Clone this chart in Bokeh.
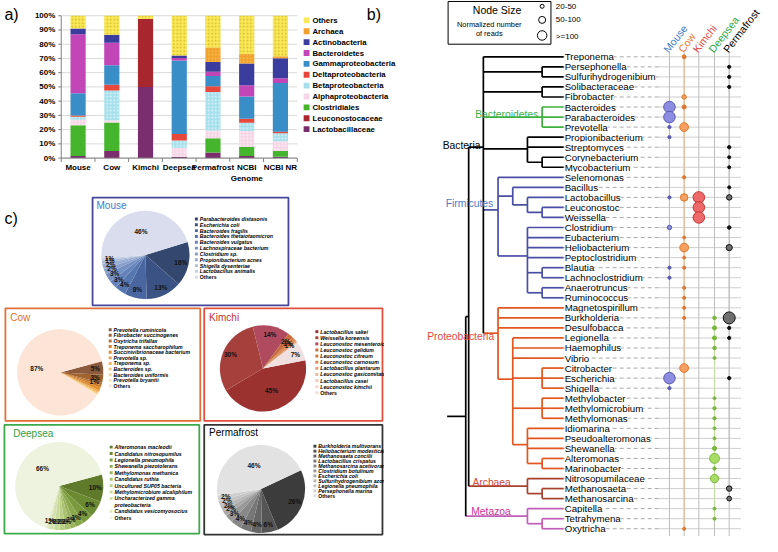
import math
from bokeh.plotting import figure
from bokeh.models import Range1d
from bokeh.embed import file_html
from bokeh.resources import INLINE
from bokeh.core.properties import value

FONT = "Liberation Sans"
F = value(FONT)

# ---------------- panel a data (percent of reads) ----------------
samples = ["Mouse", "Cow", "Kimchi", "Deepsea", "Permafrost", "NCBI\nGenome", "NCBI NR"]
groups = ["Lactobacillaceae", "Leuconostocaceae", "Clostridiales", "Alphaproteobacteria",
          "Betaproteobacteria", "Deltaproteobacteria", "Gammaproteobacteria", "Bacteroidetes",
          "Actinobacteria", "Archaea", "Others"]
lactobacillaceae = [1.5, 5.0, 50.0, 1.0, 4.0, 1.5, 1.0]
leuconostocaceae = [0, 0, 47.7, 0, 0, 0, 0]
clostridiales = [21.5, 20.0, 0, 0, 10.0, 6.5, 4.0]
alphaproteobacteria = [4.0, 1.5, 0, 6.3, 5.3, 11.0, 6.8]
betaproteobacteria = [2.0, 21.0, 0, 5.0, 27.1, 5.8, 5.7]
deltaproteobacteria = [1.0, 4.1, 0, 4.7, 4.1, 2.9, 1.0]
gammaproteobacteria = [15.5, 13.6, 0, 51.6, 7.2, 15.5, 34.2]
bacteroidetes = [41.5, 15.9, 0, 1.8, 3.0, 7.9, 3.4]
actinobacteria = [4.0, 5.5, 0, 1.6, 6.8, 15.3, 14.1]
archaea = [0, 0, 0, 0, 10.2, 6.8, 1.3]
others = [9.0, 13.4, 2.3, 28.0, 22.3, 26.8, 28.5]
series = [lactobacillaceae, leuconostocaceae, clostridiales, alphaproteobacteria,
          betaproteobacteria, deltaproteobacteria, gammaproteobacteria, bacteroidetes,
          actinobacteria, archaea, others]
pct_ticks = [0, 10, 20, 30, 40, 50, 60, 70, 80, 90, 100]
bar_colors = ["#7A2E6E", "#A8262E", "#46B52E", "#F6D6E6", "#A6E0EC", "#E8473B",
              "#3A8EC8", "#C246B8", "#3A3C9E", "#F2A02E", "#F8E85A"]
bar_hatch = [" ", " ", " ", "dot", "dot", " ", " ", " ", " ", "dot", "dot"]
bar_hatch_color = ["white", "white", "white", "#FFFFFF", "#FFFFFF", "white", "white",
                   "white", "white", "#F8D860", "#C8A400"]

# ---------------- panel b data ----------------
genera = ["Treponema", "Persephonella", "Sulfurihydrogenibium", "Solibacteraceae", "Fibrobacter",
          "Bacteroides", "Parabacteroides", "Prevotella", "Propionibacterium", "Streptomyces",
          "Corynebacterium", "Mycobacterium", "Selenomonas", "Bacillus", "Lactobacillus",
          "Leuconostoc", "Weissella", "Clostridium", "Eubacterium", "Heliobacterium",
          "Peptoclostridium", "Blautia", "Lachnoclostridium", "Anaerotruncus", "Ruminococcus",
          "Magnetospirillum", "Burkholderia", "Desulfobacca", "Legionella", "Haemophilus",
          "Vibrio", "Citrobacter", "Escherichia", "Shigella", "Methylobacter",
          "Methylomicrobium", "Methylomonas", "Idiomarina", "Pseudoalteromonas", "Shewanella",
          "Alteromonas", "Marinobacter", "Nitrosopumilaceae", "Methanosaeta", "Methanosarcina",
          "Capitella", "Tetrahymena", "Oxytricha"]
environments = ["Mouse", "Cow", "Kimchi", "Deepsea", "Permafrost"]
# normalized number of reads per genus (estimated from node sizes)
mouse_reads = [0, 0, 0, 0, 0, 300, 300, 5, 5, 0, 0, 0, 0, 0, 5, 0, 0, 20, 0, 0,
               0, 5, 5, 0, 0, 0, 0, 0, 0, 0, 0, 0, 300, 5, 0, 0, 0, 0, 0, 0,
               0, 0, 0, 0, 0, 0, 0, 0]
cow_reads = [12, 0, 0, 0, 20, 15, 0, 150, 0, 0, 0, 0, 6, 0, 100, 0, 0, 0, 3, 150,
             3, 4, 0, 4, 4, 4, 4, 0, 0, 0, 0, 150, 0, 0, 0, 0, 0, 0, 0, 0,
             0, 0, 0, 0, 0, 0, 0, 4]
kimchi_reads = [0, 0, 0, 0, 0, 0, 0, 0, 0, 0, 0, 0, 0, 0, 300, 300, 300, 0, 0, 0,
                0, 0, 0, 0, 0, 0, 0, 0, 0, 0, 0, 0, 0, 0, 0, 0, 0, 0, 0, 0,
                0, 0, 0, 0, 0, 0, 0, 0]
deepsea_reads = [0, 0, 0, 0, 0, 0, 0, 0, 0, 0, 0, 0, 0, 0, 0, 0, 0, 0, 0, 0,
                 0, 0, 0, 0, 0, 0, 8, 15, 15, 8, 3, 0, 0, 0, 3, 6, 6, 3, 3, 15,
                 200, 6, 130, 0, 0, 3, 4, 0]
permafrost_reads = [0, 5, 5, 5, 0, 0, 0, 0, 0, 6, 4, 4, 0, 4, 40, 0, 0, 8, 0, 60,
                    0, 0, 0, 0, 0, 0, 330, 5, 5, 0, 0, 0, 6, 0, 0, 0, 0, 0, 0, 0,
                    0, 0, 0, 40, 25, 0, 0, 0]
reads = [mouse_reads, cow_reads, kimchi_reads, deepsea_reads, permafrost_reads]
size_classes = ["20-50", "50-100", ">=100"]

# tree topology: (clade, level, children); leaves are genus names
tree = ("root", 0, [
    (None, 1, [
        ("Bacteria", 2, [
            "Treponema",
            (None, 6, ["Persephonella", "Sulfurihydrogenibium"]),
            (None, 6, ["Solibacteraceae", "Fibrobacter"]),
            ("Bacteroidetes", 6, ["Bacteroides", "Parabacteroides", "Prevotella"]),
            (None, 5, ["Propionibacterium", "Streptomyces",
                       (None, 6, ["Corynebacterium", "Mycobacterium"])]),
            ("Firmicutes", 3, [
                "Selenomonas",
                (None, 4, ["Bacillus", (None, 5, ["Lactobacillus",
                                                  (None, 6, ["Leuconostoc", "Weissella"])])]),
                (None, 5, ["Clostridium", "Eubacterium", "Heliobacterium", "Peptoclostridium",
                           (None, 6, ["Blautia", "Lachnoclostridium"]),
                           (None, 6, ["Anaerotruncus", "Ruminococcus"])])]),
            ("Proteobacteria", 3, [
                "Magnetospirillum", "Burkholderia", "Desulfobacca",
                (None, 4, ["Legionella", "Haemophilus", "Vibrio",
                           (None, 6, ["Citrobacter", "Escherichia", "Shigella"]),
                           (None, 6, ["Methylobacter", "Methylomicrobium", "Methylomonas"]),
                           (None, 5, ["Idiomarina", "Pseudoalteromonas", "Shewanella",
                                      (None, 6, ["Alteromonas", "Marinobacter"])])])])]),
        ("Archaea", 5, ["Nitrosopumilaceae", (None, 6, ["Methanosaeta", "Methanosarcina"])])]),
    ("Metazoa", 5, ["Capitella", (None, 6, ["Tetrahymena", "Oxytricha"])])])

# ---------------- panel c data (percent) ----------------
mouse_species = ["Parabacteroides distasonis", "Escherichia coli", "Bacteroides fragilis",
                 "Bacteroides thetaiotaomicron", "Bacteroides vulgatus", "Lachnospiraceae bacterium",
                 "Clostridium sp.", "Propionibacterium acnes", "Shigella dysenteriae",
                 "Lactobacillus animalis", "Others"]
mouse_pct = [16, 13, 8, 4, 3, 3, 2, 2, 1, 1, 46]
cow_species = ["Prevotella ruminicola", "Fibrobacter succinogenes", "Oxytricha trifallax",
               "Treponema saccharophilum", "Succinivibrionaceae bacterium", "Prevotella sp.",
               "Treponema sp.", "Bacteroides sp.", "Bacteroides uniformis", "Prevotella bryantii",
               "Others"]
cow_pct = [5, 3, 1, 1, 1, 0.6, 0.5, 0.4, 0.3, 0.2, 87]
kimchi_species = ["Lactobacillus sakei", "Weissella koreensis", "Leuconostoc mesenteroides",
                  "Leuconostoc gelidum", "Leuconostoc citreum", "Leuconostoc carnosum",
                  "Lactobacillus plantarum", "Leuconostoc gasicomitatum", "Lactobacillus casei",
                  "Leuconostoc kimchii", "Others"]
kimchi_pct = [45, 30, 14, 2, 1, 1, 0.4, 0.3, 0.2, 0.1, 7]
deepsea_species = ["Alteromonas macleodii", "Candidatus nitrosopumilus", "Legionella pneumophila",
                   "Shewanella piezotolerans", "Methylomonas methanica", "Candidatus ruthia",
                   "Uncultured SUP05 bacteria", "Methylomicrobium alcaliphilum",
                   "Uncharacterized gamma\nproteobacteria", "Candidatus vesicomyosocius", "Others"]
deepsea_pct = [10, 6, 4, 3, 2, 2, 2, 2, 2, 1, 66]
permafrost_species = ["Burkholderia multivorans", "Heliobacterium modesticaldum",
                      "Methanosaeta concilii", "Lactobacillus crispatus",
                      "Methanosarcina acetivorans", "Clostridium botulinum", "Escherichia coli",
                      "Sulfurihydrogenibium azorense", "Legionella pneumophila",
                      "Persephonella marina", "Others"]
permafrost_pct = [26, 6, 4, 4, 4, 3, 2, 2, 2, 2, 46]

# =====================================================================
# One canvas; main ranges are layout units (x right, y = -row), plus
# data ranges for the bar chart (category index / percent) and the tree (leaf index)
# =====================================================================
W, H = 778.0, 552.0
p = figure(width=762, height=536, x_range=Range1d(0, W), y_range=Range1d(-H, 0),
           x_axis_type=None, y_axis_type=None, toolbar_location=None, output_backend="svg",
           min_border=0, title=None)
p.outline_line_color = None
p.grid.visible = False

# --- bar chart scales: frame of panel a spans x 62..303, y 15.7..162.3 (layout units)
AX_L, AX_R, AX_T, AX_B = 62.0, 303.0, 15.7, 162.3
ncat = len(samples)
cw = (AX_R - AX_L) / ncat
pxp = (AX_B - AX_T) / 100.0
p.extra_x_ranges["cat"] = Range1d(-AX_L / cw - 0.5, (W - AX_L) / cw - 0.5)
p.extra_y_ranges["pct"] = Range1d((AX_B - H) / pxp, AX_B / pxp)
CAT = dict(x_range_name="cat", y_range_name="pct")

xi = list(range(ncat))
p.segment(x0=[-0.5] * len(pct_ticks), x1=[ncat - 0.5] * len(pct_ticks), y0=pct_ticks,
          y1=pct_ticks, line_color="#D9D9D9", line_width=1, **CAT)
bottom = [0.0] * ncat
for g, s, col, hp, hc in zip(groups, series, bar_colors, bar_hatch, bar_hatch_color):
    top = [b + v for b, v in zip(bottom, s)]
    p.vbar(x=xi, bottom=bottom, top=top, width=0.45, fill_color=col, line_color=None,
           hatch_pattern=hp, hatch_color=hc, hatch_alpha=0.7, hatch_scale=3.5, hatch_weight=1,
           **CAT)
    bottom = top
p.segment(x0=[-0.5], x1=[-0.5], y0=[0], y1=[100], line_color="#808080", line_width=1, **CAT)
p.segment(x0=[-0.5], x1=[ncat - 0.5], y0=[0], y1=[0], line_color="#808080", line_width=1, **CAT)
tk = 3.0 / cw
p.segment(x0=[-0.5 - tk] * len(pct_ticks), x1=[-0.5] * len(pct_ticks), y0=pct_ticks,
          y1=pct_ticks, line_color="#808080", line_width=1, **CAT)
bnd = [i - 0.5 for i in range(ncat + 1)]
p.segment(x0=bnd, x1=bnd, y0=[0] * len(bnd), y1=[-4.0 / pxp] * len(bnd),
          line_color="#808080", line_width=1, **CAT)
p.text(x=[-0.5 - 6.0 / cw] * len(pct_ticks), y=pct_ticks, text=["%d%%" % t for t in pct_ticks],
       text_font=F, text_font_size="8px", text_font_style="bold", text_align="right",
       text_baseline="middle", **CAT)
p.text(x=xi, y=[-5.5 / pxp] * ncat, text=samples, text_font=F, text_font_size="8px",
       text_font_style="bold", text_align="center", text_baseline="top", text_line_height=1.15,
       **CAT)
ly = [-(20.5 + 11.2 * k) for k in range(len(groups))]
rev = list(reversed(range(len(groups))))
p.rect(x=[312.5] * len(groups), y=ly, width=6, height=6,
       fill_color=[bar_colors[i] for i in rev], line_color=None)
p.text(x=[318.5] * len(groups), y=ly, text=[groups[i] for i in rev], text_font=F,
       text_font_size="7.8px", text_font_style="bold", text_baseline="middle")

p.text(x=[4, 374, 4], y=[-14, -14, -225], text=["a)", "b)", "c)"], text_font=F,
       text_font_size="16px", text_baseline="middle")

# =====================================================================
# Panel c (pies)
# =====================================================================
panels = [
    ("Mouse", mouse_species, mouse_pct,
     ["#33476F", "#3B5384", "#4A66A0", "#5676B0", "#6583BA", "#7590C2", "#8A9FCB",
      "#9CADD3", "#AEBCDB", "#C2CCE4", "#D9DDEE"],
     (94, 203, 294, 314), (98, 211), "#3E7DC6", "#46479A", (148, 262), 45, 73, 10,
     (200, 225, 6.0)),
    ("Cow", cow_species, cow_pct,
     ["#8C5A3C", "#A0622E", "#B87030", "#CC7E2C", "#E08C28", "#EDA040", "#F2B55A",
      "#F5C574", "#F7D590", "#F9E3B0", "#FCE4D7"],
     (5, 317, 204, 433), (10, 326), "#E0701E", "#E0703A", (61, 383), 44, 75, 3,
     (112, 339, 5.8)),
    ("Kimchi", kimchi_species, kimchi_pct,
     ["#9B3230", "#A6403D", "#B04A5E", "#C86A3C", "#D07A40", "#D88A50", "#E0A080",
      "#E8B8A0", "#EEC8B8", "#F2D8D0", "#F0E0E0"],
     (208, 317, 390, 433), (213, 326), "#C8322C", "#E0503C", (268, 379), 44, 79, 6,
     (323, 341, 6.3)),
    ("Deepsea", deepsea_species, deepsea_pct,
     ["#5E7A2A", "#6B8A32", "#7A9A3E", "#8AA84C", "#9AB55E", "#AAC270", "#BACE86",
      "#C8D99C", "#D4E2B0", "#DFE9C4", "#EEF3E0"],
     (4, 437, 203, 549), (13, 446), "#2E9E3E", "#3DAA4A", (60, 500), 45, 75, 10,
     (113, 460, 6.6)),
    ("Permafrost", permafrost_species, permafrost_pct,
     ["#3C3C3C", "#555555", "#666666", "#777777", "#888888", "#999999", "#A8A8A8",
      "#B6B6B6", "#C3C3C3", "#CFCFCF", "#E2E2E2"],
     (208, 437, 390, 550), (213, 445), "#000000", "#333333", (266, 503), 45, 65, 10,
     (321, 459, 5.1)),
]

for (name, species, pct, cols, box, tpos, tcol, bcol, ctr, r, start, nlab, lg) in panels:
    p.quad(left=[box[0]], right=[box[2]], top=[-box[1]], bottom=[-box[3]],
           fill_color=None, line_color=bcol, line_width=1.8)
    p.text(x=[tpos[0]], y=[-tpos[1]], text=[name], text_color=tcol, text_font=F,
           text_font_size="10px", text_baseline="middle")
    tot = float(sum(pct))
    a0s, a1s = [], []
    cum = start
    for v in pct:
        a0s.append(cum)
        cum += v / tot * 360.0
        a1s.append(cum)
    cx, cy = ctr[0], -ctr[1]
    p.wedge(x=cx, y=cy, radius=r,
            start_angle=[math.radians(90 - b) for b in a1s],
            end_angle=[math.radians(90 - a) for a in a0s],
            fill_color=cols, line_color=None, direction="anticlock")
    lx, lyy, lt = [], [], []
    for i, v in enumerate(pct):
        if i < nlab or i == len(pct) - 1:
            mid = math.radians((a0s[i] + a1s[i]) / 2)
            rr = 0.55 * r if v >= 40 else 0.82 * r
            lx.append(cx + rr * math.sin(mid))
            lyy.append(cy + rr * math.cos(mid))
            lt.append("%d%%" % round(v))
    p.text(x=lx, y=lyy, text=lt, text_font=F, text_font_size="6.5px", text_font_style="bold",
           text_align="center", text_baseline="middle", text_color="#111111")
    # legend: one row per text line
    xs, y0, step = lg
    sq_y, tx_y, tx, st = [], [], [], []
    yy = y0
    for k, s in enumerate(species):
        sq_y.append(yy)
        style = "bold" if k == len(species) - 1 else "bold italic"
        for part in s.split("\n"):
            tx_y.append(yy)
            tx.append(part)
            st.append(style)
            yy += step
    p.rect(x=[xs] * len(species), y=[-v for v in sq_y], width=3, height=3,
           fill_color=cols, line_color=None)
    p.text(x=[xs + 3.5] * len(tx), y=[-v for v in tx_y], text=tx,
           text_font=F, text_font_size="5.2px", text_font_style=st, text_baseline="middle")

p.quad(left=[391.5], right=[420], top=[-315], bottom=[-552], fill_color="white", line_color=None)

# =====================================================================
# Panel b (tree), leaf index scale
# =====================================================================
STEP = 486.0 / 47.0
def yb(y_ref):
    return -(y_ref - 58.0) / STEP

p.extra_y_ranges["tree"] = Range1d(yb(H), yb(0))
T = dict(y_range_name="tree")

LEVEL_X = {0: 475, 1: 478, 2: 493, 3: 508, 4: 523, 5: 538, 6: 553}
LEAF_X = 575
ROOT_X = 456
CLADE_COLOR = {"Bacteria": "#000000", "Bacteroidetes": "#3DB03D", "Firmicutes": "#4B4FA3",
               "Proteobacteria": "#E2561F", "Archaea": "#A8402E", "Metazoa": "#C05EB8"}
CLADE_LABEL = {"Bacteria": (-3, 2, "#000000"), "Bacteroidetes": (-4, 3, "#3DB04A"),
               "Firmicutes": (-5, 6, "#4A7CC2"), "Proteobacteria": (-4, -3, "#E04A3C"),
               "Archaea": (-17, 4, "#D0483A"), "Metazoa": (-17, 5, "#D0309A")}
leaf_index = {g: i for i, g in enumerate(genera)}

sx0, sy0, sx1, sy1, scol = [], [], [], [], []
clade_pos = {}

def seg(x0, y0, x1, y1, c):
    sx0.append(x0); sy0.append(y0); sx1.append(x1); sy1.append(y1); scol.append(c)

def lay(node, parent_color):
    if isinstance(node, str):
        return LEAF_X, -leaf_index[node], parent_color
    clade, lvl, children = node
    c = CLADE_COLOR.get(clade, parent_color)
    x = LEVEL_X[lvl]
    ys = []
    for ch in children:
        cx, cy, cc = lay(ch, c)
        seg(x, cy, cx, cy, cc)
        ys.append(cy)
    seg(x, min(ys), x, max(ys), c)
    y = sum(ys) / len(ys)
    if clade in CLADE_LABEL:
        clade_pos[clade] = (x, y)
    return x, y, c

rx, ry, rc = lay(tree, "#000000")
seg(ROOT_X, ry, rx, ry, "#000000")

col_x = [683, 698, 713, 729, 744]
leaf_y = [-i for i in range(len(genera))]

p.segment(x0=[LEAF_X] * len(genera), y0=leaf_y, x1=[672] * len(genera), y1=leaf_y,
          line_color="#A8A8A8", line_width=1, line_dash="4 3", **T)
p.segment(x0=[672] * len(genera), y0=leaf_y, x1=[756] * len(genera), y1=leaf_y,
          line_color="#CFCFCF", line_width=1, **T)
p.segment(x0=col_x, y0=[yb(53)] * 5, x1=col_x, y1=[yb(H)] * 5,
          line_color="#BDBDBD", line_width=1, **T)
trace_cols = ["#BDBDBD", "#F2B888", "#BDBDBD", "#BEE09A", "#BDBDBD"]
for x, rd, tc in zip(col_x, reads, trace_cols):
    nz = [i for i, v in enumerate(rd) if v > 0]
    p.segment(x0=[x], y0=[-nz[0]], x1=[x], y1=[-nz[-1]], line_color=tc, line_width=1, **T)

p.segment(x0=sx0, y0=sy0, x1=sx1, y1=sy1, line_color=scol, line_width=1.7, **T)

p.text(x=[LEAF_X + 1] * len(genera), y=leaf_y, text=genera, text_font=F,
       text_font_size="9.7px", text_baseline="middle", text_color="#000000",
       background_fill_color="white", **T)

for name, (dx, dy, c) in CLADE_LABEL.items():
    x, y = clade_pos[name]
    p.text(x=[x + dx], y=[y + dy / STEP], text=[name], text_font=F, text_font_size="10.3px",
           text_color=c, text_align="right", text_baseline="alphabetic", **T)

fills = ["#8C8CE0", "#F5A060", "#EC6A6A", "#A8DC64", "#707070"]
lines = ["#5A5AB0", "#E0762C", "#C83232", "#78B83A", "#111111"]
for x, rd, fc, lc in zip(col_x, reads, fills, lines):
    idx = [i for i, v in enumerate(rd) if v > 0]
    vals = [rd[i] for i in idx]
    sizes = [2 + 0.55 * math.sqrt(v) for v in vals]
    fcol = [lc if v < 20 else fc for v in vals]
    p.scatter(x=[x] * len(idx), y=[-i for i in idx], size=sizes, marker="circle",
              fill_color=fcol, line_color=lc, line_width=1, **T)

head_cols = ["#3E7CC8", "#E8782E", "#E04848", "#2EA84A", "#000000"]
p.text(x=[c - 4 for c in col_x], y=[-52] * 5, text=environments, angle=0.91,
       text_font=F, text_font_size="10.5px", text_color=head_cols, text_align="left",
       text_baseline="alphabetic")

p.quad(left=[457], right=[562], top=[-1], bottom=[-45], fill_color=None,
       line_color="#000000", line_width=1)
p.text(x=[507], y=[-10], text=["Node Size"], text_font=F, text_font_size="10.5px",
       text_align="center", text_baseline="middle")
p.text(x=[499, 499], y=[-25, -34], text=["Normalized number", "of reads"], text_font=F,
       text_font_size="7.4px", text_align="center", text_baseline="middle")
p.scatter(x=[553] * 3, y=[-6, -20, -36], size=[4, 7, 9.5], marker="circle",
          fill_color="white", line_color="#000000", line_width=1)
p.text(x=[567] * 3, y=[-6, -20, -37], text=size_classes, text_font=F,
       text_font_size="8px", text_baseline="middle")

with open("out.html", "w") as f:
    f.write(file_html(p, INLINE))
